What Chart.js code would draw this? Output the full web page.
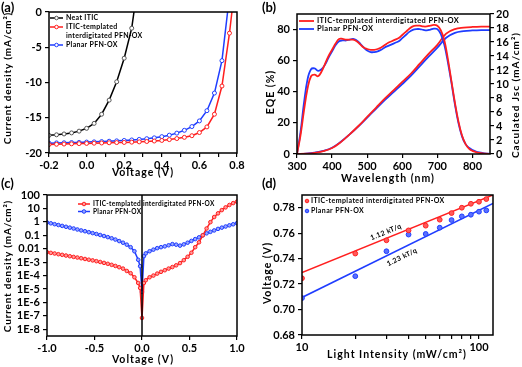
<!DOCTYPE html>
<html>
<head>
<meta charset="utf-8">
<script src="https://cdn.jsdelivr.net/npm/chart.js@4.4.1/dist/chart.umd.min.js"></script>
<style>
    body { margin: 0; background: #fff; width: 522px; height: 367px; position: relative; overflow: hidden; }
    canvas { position: absolute; }
    .tag { position: absolute; z-index: 2; font: bold 13px Lato, sans-serif; color: #000; line-height: 13px; }
</style>
</head>
<body>
<canvas id="chartA" width="261" height="183" style="left:0;top:0"></canvas>
<canvas id="chartB" width="261" height="187" style="left:261px;top:0"></canvas>
<canvas id="chartC" width="261" height="184" style="left:0;top:183px"></canvas>
<canvas id="chartD" width="261" height="184" style="left:261px;top:183px"></canvas>
<div class="tag" style="left:1px;top:1px">(a)</div>
<div class="tag" style="left:262px;top:1px">(b)</div>
<div class="tag" style="left:1px;top:177px">(c)</div>
<div class="tag" style="left:262px;top:177px">(d)</div>
<script>
// (a) J-V curves
const aVolt = [-0.2, -0.16, -0.12, -0.08, -0.04, 0, 0.04, 0.08, 0.12, 0.16, 0.2, 0.24, 0.28, 0.32, 0.36, 0.4, 0.44, 0.48, 0.52, 0.56, 0.6, 0.64, 0.68, 0.72, 0.76];
const aNeat = [-17.5, -17.42, -17.3, -17.15, -16.9, -16.5, -15.8, -14.5, -12.5, -9.9, -6.55, -2.3];
const aTemplated = [-18.8, -18.76, -18.73, -18.7, -18.67, -18.64, -18.61, -18.58, -18.55, -18.52, -18.5, -18.46, -18.42, -18.37, -18.3, -18.22, -18.1, -17.95, -17.78, -17.55, -17.1, -16.3, -14.5, -10.5, -3.0];
const aPlanar = [-18.6, -18.57, -18.55, -18.52, -18.5, -18.45, -18.42, -18.38, -18.33, -18.28, -18.22, -18.15, -18.07, -17.97, -17.85, -17.68, -17.47, -17.18, -16.78, -16.25, -15.45, -14.0, -11.5, -6.9];
const aVoc = [0.252, 0.773, 0.75]; // voltage where each curve reaches J = 0

// (b) EQE and integrated Jsc
const bWave = [300, 310, 320, 330, 340, 350, 360, 370, 380, 390, 400, 410, 420, 430, 440, 450, 460, 470, 480, 490, 500, 510, 520, 530, 540, 550, 560, 570, 580, 590, 600, 610, 620, 630, 640, 650, 660, 670, 680, 690, 700, 710, 720, 730, 740, 750, 760, 770, 780, 790, 800, 810, 820, 830, 840, 850];
const bEqeTemplated = [0, 12, 28, 42, 50, 51, 50, 53, 58, 63, 67, 71, 74, 74, 73.5, 73.5, 73.5, 72.5, 70.5, 68.5, 67.5, 67, 67, 67.5, 68.5, 70, 71.5, 72.5, 73.5, 74.5, 76.5, 78.5, 80.5, 82, 82.5, 82.5, 82, 82, 82.5, 83, 82.5, 79.5, 73, 61, 47, 33, 21, 12, 6.5, 3.5, 2, 1.2, 0.7, 0.4, 0.2, 0.1];
const bEqePlanar = [0, 14, 33, 48, 54.5, 55, 53.5, 54.5, 57.5, 62, 66, 70, 72.5, 73, 73, 73.5, 74, 73, 71, 68.5, 66.5, 65.5, 65.5, 66, 67, 68.5, 69.5, 70.5, 71.5, 72.5, 74.5, 76.5, 78.5, 79.8, 80.3, 80.3, 79.8, 79.5, 80, 80.6, 80.3, 77, 70, 59, 46, 32, 20, 11.5, 6.5, 4, 2.5, 1.6, 1, 0.6, 0.3, 0.1];
const bJscWave = [300, 325, 350, 375, 400, 425, 450, 475, 500, 525, 550, 575, 600, 625, 650, 675, 700, 725, 750, 775, 800, 825, 850];
const bJscTemplated = [0, 0.04, 0.15, 0.4, 0.85, 1.7, 2.8, 4.0, 5.3, 6.6, 7.9, 9.1, 10.3, 11.5, 12.9, 14.3, 15.6, 17.2, 17.85, 18.05, 18.15, 18.2, 18.2];
const bJscPlanar = [0, 0.05, 0.2, 0.45, 0.9, 1.75, 2.8, 3.95, 5.2, 6.45, 7.7, 8.85, 10.0, 11.2, 12.55, 13.9, 15.2, 16.6, 17.3, 17.55, 17.65, 17.7, 17.7];

// (c) dark J-V, log scale
const cVolt = [-1, -0.96, -0.92, -0.88, -0.84, -0.8, -0.76, -0.72, -0.68, -0.64, -0.6, -0.56, -0.52, -0.48, -0.44, -0.4, -0.36, -0.32, -0.28, -0.24, -0.2, -0.16, -0.12, -0.08, -0.04, -0.02, 0, 0.02, 0.04, 0.08, 0.12, 0.16, 0.2, 0.24, 0.28, 0.32, 0.36, 0.4, 0.44, 0.48, 0.52, 0.56, 0.6, 0.64, 0.68, 0.72, 0.76, 0.8, 0.84, 0.88, 0.92, 0.96, 1];
const cTemplated = [5.5e-3, 4.9e-3, 4.4e-3, 3.9e-3, 3.5e-3, 3.1e-3, 2.75e-3, 2.45e-3, 2.2e-3, 1.95e-3, 1.72e-3, 1.52e-3, 1.35e-3, 1.18e-3, 1.03e-3, 8.8e-4, 7.5e-4, 6.3e-4, 5.2e-4, 4.2e-4, 3.3e-4, 2.2e-4, 1.5e-4, 7.5e-5, 2.8e-5, 1.2e-5, 7e-8, 2.8e-5, 4.5e-5, 7.5e-5, 1.0e-4, 1.4e-4, 1.9e-4, 2.5e-4, 3.3e-4, 4.3e-4, 5.8e-4, 8.5e-4, 1.4e-3, 2.5e-3, 5e-3, 0.013, 0.03, 0.1, 0.32, 0.95, 2.3, 4.3, 7.5, 12, 18, 25, 32];
const cPlanar = [0.9, 0.78, 0.67, 0.58, 0.5, 0.43, 0.37, 0.32, 0.27, 0.23, 0.2, 0.17, 0.145, 0.125, 0.105, 0.088, 0.073, 0.06, 0.048, 0.037, 0.028, 0.02, 0.013, 6.5e-3, 1.5e-3, 5e-4, 6e-6, 2.8e-3, 4.5e-3, 6.5e-3, 8.5e-3, 0.011, 0.013, 0.015, 0.018, 0.022, 0.02, 0.017, 0.021, 0.028, 0.038, 0.052, 0.07, 0.1, 0.14, 0.18, 0.23, 0.3, 0.37, 0.45, 0.55, 0.66, 0.8];
const cTickValues = [1e-8, 1e-7, 1e-6, 1e-5, 1e-4, 1e-3, 0.01, 0.1, 1, 10, 100];
const cTickLabels = ['1E-8', '1E-7', '1E-6', '1E-5', '1E-4', '1E-3', '0.01', '0.1', '1', '10', '100'];

// (d) Voc vs light intensity
const dLight = [10, 20, 30, 40, 50, 60, 70, 80, 90, 100, 110];
const dTemplated = [0.7246, 0.744, 0.7544, 0.7622, 0.7659, 0.7706, 0.7758, 0.780, 0.7831, 0.7847, 0.7868];
const dPlanar = [0.709, 0.7262, 0.7458, 0.7589, 0.7594, 0.7643, 0.7703, 0.7732, 0.7745, 0.7769, 0.7779];
const dFitLight = [10, 120];
const dFitTemplated = [0.729, 0.790];
const dFitPlanar = [0.7095, 0.7834];
const dTickValues = [10, 20, 30, 40, 50, 60, 70, 80, 90, 100];
const dTickLabels = ['10', '', '', '', '', '', '', '', '', '100'];

const RED = '#ff1f1f';
const BLUE = '#1f3dff';
const FONT = 'Lato, sans-serif';

Chart.defaults.font.family = FONT;
Chart.defaults.font.size = 11;
Chart.defaults.font.weight = 'bold';
Chart.defaults.color = '#000';
Chart.defaults.plugins.legend.display = false;
Chart.defaults.plugins.tooltip.enabled = false;

const pair = (xs, ys) => ys.map((y, i) => ({ x: xs[i], y }));

// Box around the plot area.
const frame = {
    id: 'frame',
    afterDraw(chart) {
        const a = chart.chartArea, ctx = chart.ctx;
        ctx.save();
        ctx.strokeStyle = '#000';
        ctx.lineWidth = 1.5;
        ctx.strokeRect(a.left, a.top, a.right - a.left, a.bottom - a.top);
        ctx.restore();
    }
};

// Axis titles and notes, letter spaced like the figure.
const texts = {
    id: 'texts',
    afterDraw(chart, args, opts) {
        const ctx = chart.ctx;
        (opts.items || []).forEach(t => {
            ctx.save();
            ctx.translate(t.x, t.y);
            ctx.rotate((t.rot || 0) * Math.PI / 180);
            ctx.font = `bold ${t.size || 10.5}px ${FONT}`;
            ctx.letterSpacing = (t.ls === undefined ? 1 : t.ls) + 'px';
            ctx.textAlign = 'center';
            ctx.textBaseline = 'middle';
            ctx.fillStyle = '#000';
            ctx.fillText(t.text, 0, 0);
            ctx.restore();
        });
    }
};

// Small legend inside the plot.
const key = {
    id: 'key',
    afterDatasetsDraw(chart, args, opts) {
        if (!opts.rows) return;
        const ctx = chart.ctx;
        ctx.save();
        ctx.font = `bold ${opts.size}px ${FONT}`;
        ctx.letterSpacing = opts.ls + 'px';
        ctx.textBaseline = 'middle';
        let y = opts.y;
        opts.rows.forEach(i => {
            const ds = chart.data.datasets[i];
            const x0 = opts.x, x1 = opts.x + opts.len;
            if (opts.len > 0) {
                ctx.strokeStyle = ds.borderColor;
                ctx.lineWidth = ds.borderWidth;
                ctx.beginPath();
                ctx.moveTo(x0, y);
                ctx.lineTo(x1, y);
                ctx.stroke();
            }
            if (opts.r) {
                ctx.beginPath();
                ctx.arc((x0 + x1) / 2, y, opts.r, 0, Math.PI * 2);
                ctx.fillStyle = ds.pointBackgroundColor || ds.borderColor;
                ctx.fill();
                ctx.lineWidth = 1;
                ctx.strokeStyle = ds.pointBorderColor || ds.borderColor;
                ctx.stroke();
            }
            ctx.fillStyle = '#000';
            String(ds.label).split('\n').forEach(line => {
                ctx.fillText(line, x1 + opts.gap, y);
                y += opts.lh;
            });
        });
        ctx.restore();
    }
};

// Vertical line at V = 0 in (c).
const zeroLine = {
    id: 'zeroLine',
    afterDatasetsDraw(chart) {
        const ctx = chart.ctx, a = chart.chartArea;
        const x = chart.scales.x.getPixelForValue(0);
        ctx.save();
        ctx.strokeStyle = '#000';
        ctx.lineWidth = 1.5;
        ctx.beginPath();
        ctx.moveTo(x, a.top);
        ctx.lineTo(x, a.bottom);
        ctx.stroke();
        ctx.restore();
    }
};

function axis(type, pos, size, extra) {
    return Object.assign({
        type: type,
        position: pos,
        afterFit: s => {
            if (s.isHorizontal()) s.height = size;
            else s.width = size;
        },
        border: { display: false },
        grid: { drawOnChartArea: false, tickLength: 4, color: '#000', lineWidth: 1.2 },
    }, extra);
}

function tickOpts(extra) {
    return Object.assign({ autoSkip: false, maxRotation: 0, includeBounds: false, padding: 2, color: '#000', font: { size: 11, weight: 'bold' } }, extra);
}

function baseOptions(padding) {
    return {
        responsive: false,
        animation: false,
        devicePixelRatio: 1,
        layout: { padding: padding },
    };
}

// ----- (a) -----
const jvPoint = ctx => (ctx.raw && ctx.raw.y === 0 ? 0 : 2);
new Chart(document.getElementById('chartA'), {
    type: 'scatter',
    data: {
        datasets: [{
            label: 'Neat ITIC',
            data: pair(aVolt, aNeat).concat([{ x: aVoc[0], y: 0 }]),
            showLine: true, borderColor: '#000', borderWidth: 1.5,
            pointRadius: jvPoint, pointBackgroundColor: '#fff', pointBorderColor: '#555', pointBorderWidth: 1,
        }, {
            label: 'ITIC-templated\ninterdigitated PFN-OX',
            data: pair(aVolt, aTemplated).concat([{ x: aVoc[1], y: 0 }]),
            showLine: true, borderColor: RED, borderWidth: 1.5,
            pointRadius: jvPoint, pointBackgroundColor: '#fff', pointBorderColor: RED, pointBorderWidth: 1,
        }, {
            label: 'Planar PFN-OX',
            data: pair(aVolt, aPlanar).concat([{ x: aVoc[2], y: 0 }]),
            showLine: true, borderColor: BLUE, borderWidth: 1.5,
            pointRadius: jvPoint, pointBackgroundColor: '#fff', pointBorderColor: BLUE, pointBorderWidth: 1,
        }]
    },
    options: Object.assign(baseOptions({ top: 12, right: 24, left: 0, bottom: 0 }), {
        scales: {
            x: axis('linear', 'bottom', 30, {
                min: -0.2, max: 0.8,
                ticks: tickOpts({ stepSize: 0.1, callback: v => (Math.round(v * 10) % 2 === 0 ? v.toFixed(1) : '') }),
            }),
            y: axis('linear', 'left', 49, {
                min: -20, max: 0,
                ticks: tickOpts({ stepSize: 5, padding: 3 }),
            }),
        },
        plugins: {
            key: { rows: [0, 1, 2], x: 50, y: 18, len: 13, gap: 3, lh: 9, size: 7, ls: 0.3, r: 1.8 },
            texts: { items: [
                { text: 'Current density (mA/cm²)', x: 8, y: 78, rot: -90, size: 10, ls: 0.8 },
                { text: 'Voltage (V)', x: 143, y: 173 },
            ] },
        },
    }),
    plugins: [key, frame, texts],
});

// ----- (b) -----
new Chart(document.getElementById('chartB'), {
    type: 'scatter',
    data: {
        datasets: [{
            label: 'ITIC-templated interdigitated PFN-OX',
            data: pair(bWave, bEqeTemplated),
            showLine: true, borderColor: RED, borderWidth: 1.8, pointRadius: 0, tension: 0.4, yAxisID: 'y',
        }, {
            label: 'Planar PFN-OX',
            data: pair(bWave, bEqePlanar),
            showLine: true, borderColor: BLUE, borderWidth: 1.8, pointRadius: 0, tension: 0.4, yAxisID: 'y',
        }, {
            label: 'Jsc templated',
            data: pair(bJscWave, bJscTemplated),
            showLine: true, borderColor: RED, borderWidth: 1.8, pointRadius: 0, tension: 0.4, yAxisID: 'y2',
        }, {
            label: 'Jsc planar',
            data: pair(bJscWave, bJscPlanar),
            showLine: true, borderColor: BLUE, borderWidth: 1.8, pointRadius: 0, tension: 0.4, yAxisID: 'y2',
        }]
    },
    options: Object.assign(baseOptions({ top: 14, right: 0, left: 0, bottom: 0 }), {
        scales: {
            x: axis('linear', 'bottom', 33, {
                min: 300, max: 850,
                ticks: tickOpts({ stepSize: 100 }),
            }),
            y: axis('linear', 'left', 36, {
                min: 0, max: 90,
                ticks: tickOpts({ stepSize: 20, padding: 3 }),
            }),
            y2: axis('linear', 'right', 32, {
                min: 0, max: 20,
                ticks: tickOpts({ stepSize: 2, padding: 2 }),
            }),
        },
        plugins: {
            key: { rows: [0, 1], x: 38, y: 21, len: 15, gap: 3, lh: 8, size: 7.5, ls: 0.4, r: 0 },
            texts: { items: [
                { text: 'EQE (%)', x: 10, y: 92, rot: -90 },
                { text: 'Caculated Jsc (mA/cm²)', x: 255, y: 95, rot: -90, size: 10 },
                { text: 'Wavelength (nm)', x: 127, y: 179 },
            ] },
        },
    }),
    plugins: [key, frame, texts],
});

// ----- (c) -----
new Chart(document.getElementById('chartC'), {
    type: 'scatter',
    data: {
        datasets: [{
            label: 'ITIC-templated interdigitated PFN-OX',
            data: pair(cVolt, cTemplated),
            showLine: true, borderColor: RED, borderWidth: 1.5,
            pointRadius: 1.8, pointBackgroundColor: '#ff9a9a', pointBorderColor: RED, pointBorderWidth: 1,
        }, {
            label: 'Planar PFN-OX',
            data: pair(cVolt, cPlanar),
            showLine: true, borderColor: BLUE, borderWidth: 1.5,
            pointRadius: 1.8, pointBackgroundColor: '#9aa8ff', pointBorderColor: BLUE, pointBorderWidth: 1,
        }]
    },
    options: Object.assign(baseOptions({ top: 12, right: 24, left: 0, bottom: 0 }), {
        scales: {
            x: axis('linear', 'bottom', 31, {
                min: -1, max: 1,
                ticks: tickOpts({ stepSize: 0.5, callback: v => v.toFixed(1) }),
            }),
            y: axis('logarithmic', 'left', 47, {
                min: 3.16e-9, max: 100,
                afterBuildTicks: s => { s.ticks = cTickValues.map(v => ({ value: v })); },
                ticks: tickOpts({ padding: 3, callback: (v, i) => cTickLabels[i] }),
            }),
        },
        plugins: {
            key: { rows: [0, 1], x: 78, y: 21, len: 12, gap: 3, lh: 7.5, size: 6.5, ls: 0.3, r: 1.8 },
            texts: { items: [
                { text: 'Current density (mA/cm²)', x: 8, y: 83, rot: -90, size: 10, ls: 0.8 },
                { text: 'Voltage (V)', x: 143, y: 177 },
            ] },
        },
    }),
    plugins: [key, zeroLine, frame, texts],
});

// ----- (d) -----
new Chart(document.getElementById('chartD'), {
    type: 'scatter',
    data: {
        datasets: [{
            label: 'ITIC-templated interdigitated PFN-OX',
            data: pair(dLight, dTemplated),
            pointRadius: 2.4, backgroundColor: RED, borderColor: RED, pointBackgroundColor: '#ff5a5a', pointBorderColor: RED,
        }, {
            label: 'Planar PFN-OX',
            data: pair(dLight, dPlanar),
            pointRadius: 2.4, backgroundColor: BLUE, borderColor: BLUE, pointBackgroundColor: '#5a70ff', pointBorderColor: BLUE,
        }, {
            label: 'fit templated',
            data: pair(dFitLight, dFitTemplated),
            showLine: true, pointRadius: 0, borderColor: RED, borderWidth: 1.5,
        }, {
            label: 'fit planar',
            data: pair(dFitLight, dFitPlanar),
            showLine: true, pointRadius: 0, borderColor: BLUE, borderWidth: 1.5,
        }]
    },
    options: Object.assign(baseOptions({ top: 12, right: 29, left: 0, bottom: 0 }), {
        scales: {
            x: axis('logarithmic', 'bottom', 32, {
                min: 10, max: 120,
                afterBuildTicks: s => { s.ticks = dTickValues.map(v => ({ value: v })); },
                ticks: tickOpts({ callback: (v, i) => dTickLabels[i] }),
            }),
            y: axis('linear', 'left', 41, {
                min: 0.68, max: 0.79,
                ticks: tickOpts({ stepSize: 0.02, padding: 3, callback: v => v.toFixed(2) }),
            }),
        },
        plugins: {
            key: { rows: [0, 1], x: 46, y: 18, len: 0, gap: 4, lh: 10, size: 7, ls: 0.4, r: 1.8 },
            texts: { items: [
                { text: 'Voltage (V)', x: 7, y: 90, rot: -90 },
                { text: 'Light Intensity (mW/cm²)', x: 136, y: 172 },
                { text: '1.12 kT/q', x: 125, y: 49, rot: -22, size: 7, ls: 0.4 },
                { text: '1.23 kT/q', x: 141, y: 74, rot: -26, size: 7, ls: 0.4 },
            ] },
        },
    }),
    plugins: [key, frame, texts],
});
</script>
</body>
</html>
